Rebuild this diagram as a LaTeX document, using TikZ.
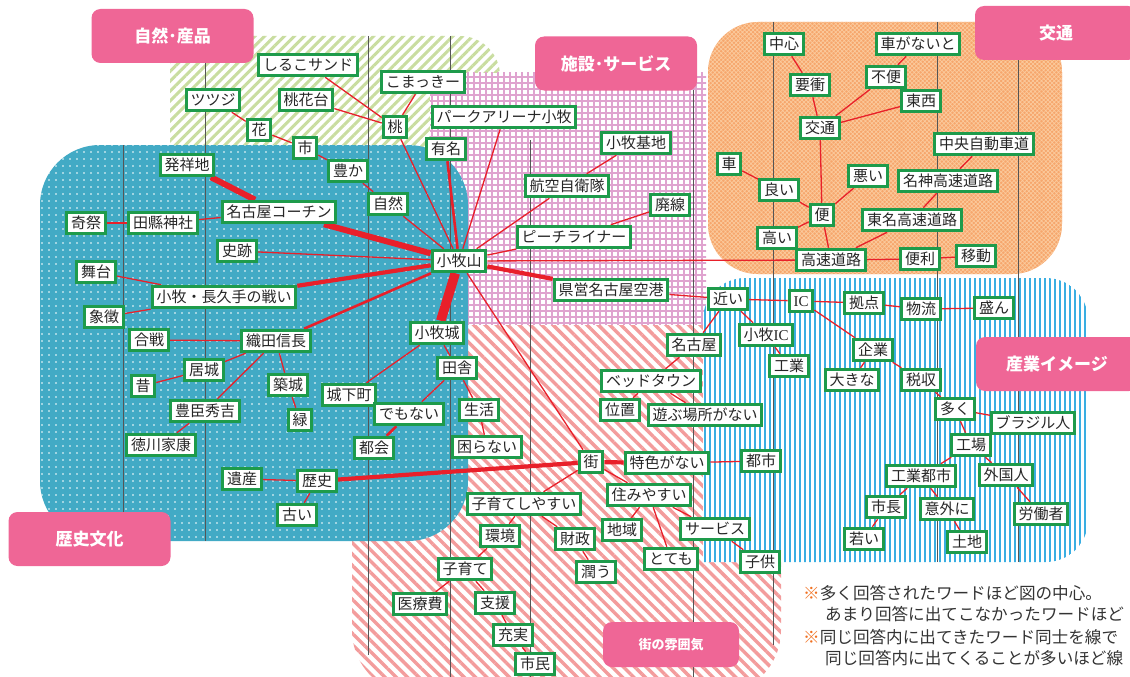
\documentclass[tikz,border=0pt]{standalone}
\usepackage{fontspec}
\newfontfamily\cjk{Noto Sans CJK JP}
\newfontfamily\lserif{Liberation Serif}
\usetikzlibrary{patterns.meta}
\definecolor{lab}{HTML}{EF6696}
\definecolor{ngreen}{HTML}{1E9B4B}
\definecolor{ered}{HTML}{E8202A}
\definecolor{teal}{HTML}{42AAC5}
\definecolor{grs}{HTML}{C9DDA0}
\definecolor{pnk}{HTML}{DFA3CF}
\definecolor{org}{HTML}{F6A66C}
\definecolor{orgl}{HTML}{FBCB9E}
\definecolor{rds}{HTML}{F39C9C}
\definecolor{blu}{HTML}{3AAEE2}
\definecolor{ast}{HTML}{F07020}
\definecolor{gline}{HTML}{555555}
\pgfdeclarelayer{regions}
\pgfdeclarelayer{edges}
\pgfsetlayers{regions,edges,main}
\tikzset{
 w/.style={draw=ngreen, line width=3pt, fill=white, inner xsep=4.3pt, inner ysep=0pt,
   minimum height=21.5pt, text height=12pt, text depth=0.5pt, text=black!85,
   font=\cjk\fontsize{15}{15}\selectfont},
 lbl/.style={fill=lab, rounded corners=9pt, text=white, inner sep=0pt,
   font=\cjk\bfseries\fontsize{17}{17}\selectfont, minimum width=162pt, minimum height=54pt},
 note/.style={anchor=west, inner sep=0pt, text=black!80, font=\cjk\fontsize{16.6}{16.6}\selectfont},
 e/.style={draw=ered, line width=1.3pt},
 eb/.style={draw=ered, line width=2.6pt},
 ec/.style={draw=ered, line width=4.2pt},
 ed/.style={draw=ered, line width=6pt},
 ee/.style={draw=ered, line width=9.5pt},
 vl/.style={draw=gline, line width=0.6pt},
}
\begin{document}
\begin{tikzpicture}[x=1pt,y=-1pt]
\useasboundingbox (0,0) rectangle (1130,677);

% ---------------- regions ----------------
\begin{pgfonlayer}{regions}
\clip (0,0) rectangle (1130,677);
% nature (green stripes)
\fill[white] {[rounded corners=40pt] (170,36) rectangle (500,160)} (170,36) rectangle (260,160) (420,110) rectangle (500,160);
\fill[pattern={Lines[angle=45,distance=7pt,line width=3pt]}, pattern color=grs]
  {[rounded corners=40pt] (170,36) rectangle (500,160)} (170,36) rectangle (260,160) (420,110) rectangle (500,160);
% facilities (pink grid)
\fill[white] (430,73) rectangle (706,325);
\fill[pattern={Hatch[distance=6pt,line width=1.4pt]}, pattern color=pnk] (430,73) rectangle (706,325);
% town (red stripes)
\fill[white, rounded corners=65pt] (352,325) rectangle (781,695);
\fill[pattern={Lines[angle=-45,distance=8pt,line width=3.4pt]}, pattern color=rds, rounded corners=65pt] (352,325) rectangle (781,695);
% traffic (orange)
\fill[org, rounded corners=50pt] (708,22) rectangle (1062,274);
\fill[pattern={Hatch[angle=45,distance=3pt,line width=0.7pt]}, pattern color=orgl, rounded corners=50pt] (708,22) rectangle (1062,274);
% industry (blue stripes)
\fill[white] {[rounded corners=42pt] (703,278) rectangle (1088,562)} (703,500) rectangle (760,562);
\fill[pattern={Lines[angle=90,distance=5pt,line width=2.4pt]}, pattern color=blu]
  {[rounded corners=42pt] (703,278) rectangle (1088,562)} (703,500) rectangle (760,562);
% history (teal dots)
\fill[teal, rounded corners=60pt] (40,145) rectangle (468,541);
\fill[pattern={Dots[distance=7pt,radius=0.8pt]}, pattern color=white, rounded corners=60pt] (40,145) rectangle (468,541);
% grid lines
\draw[vl] (123,145) -- (123,541);
\draw[vl] (205,63) -- (205,541);
\draw[vl] (368,36) -- (368,655);
\draw[vl] (450,36) -- (450,677);
\draw[vl] (530,140) -- (530,677);
\draw[vl] (693,90) -- (693,677);
\draw[vl] (773,22) -- (773,645);
\draw[vl] (937,22) -- (937,562);
\draw[vl] (1018,60) -- (1018,562);
\end{pgfonlayer}

% ---------------- category labels ----------------
\node[lbl] (L1) at (172.5,36) {自然･産品};
\node[lbl] (L2) at (616,63.5) {施設･サービス};
\node[lbl] (L3) at (1056,33) {交通};
\node[lbl] (L4) at (1057,364) {産業イメージ};
\node[lbl] (L5) at (89.5,539) {歴史文化};
\node[lbl, minimum width=136pt, minimum height=45pt, font=\cjk\bfseries\fontsize{13}{13}\selectfont] (L6) at (671,644.5) {街の雰囲気};

% ---------------- nature ----------------
\node[w] (n1) at (308,65) {しるこサンド};
\node[w] (n2) at (306,100) {桃花台};
\node[w] (n3) at (213,100) {ツツジ};
\node[w] (n4) at (259,130) {花};
\node[w] (n5) at (305,148) {市};
\node[w] (n6) at (348,171) {豊か};
\node[w] (n7) at (388,204) {自然};
\node[w] (n8) at (395,127) {桃};
\node[w] (n9) at (423,82) {こまっきー};
\node[w] (n10) at (504,117) {パークアリーナ小牧};
\node[w] (n11) at (446,149) {有名};
% ---------------- facilities ----------------
\node[w] (f1) at (636,143) {小牧基地};
\node[w] (f2) at (567,186) {航空自衛隊};
\node[w] (f3) at (670,205) {廃線};
\node[w] (f4) at (574,237) {ピーチライナー};
\node[w] (f5) at (611,290) {県営名古屋空港};
\node[w] (km) at (459,261) {小牧山};
% ---------------- traffic ----------------
\node[w] (t1) at (784,44) {中心};
\node[w] (t2) at (810,85) {要衝};
\node[w] (t3) at (820,128) {交通};
\node[w] (t4) at (918,44) {車がないと};
\node[w] (t5) at (886,77) {不便};
\node[w] (t6) at (921,101) {東西};
\node[w] (t7) at (984,144) {中央自動車道};
\node[w] (t8) at (948,181) {名神高速道路};
\node[w] (t9) at (868,176) {悪い};
\node[w] (t10) at (912,220) {東名高速道路};
\node[w] (t11) at (729,164) {車};
\node[w] (t12) at (779,190) {良い};
\node[w] (t13) at (822,215) {便};
\node[w] (t14) at (777,238) {高い};
\node[w] (t15) at (831,260) {高速道路};
\node[w] (t16) at (920,259) {便利};
\node[w] (t17) at (976,256) {移動};
% ---------------- industry ----------------
\node[w] (i1) at (728,299) {近い};
\node[w] (i2) at (801,301) {\lserif IC};
\node[w] (i3) at (864,303) {拠点};
\node[w] (i4) at (921,309) {物流};
\node[w] (i5) at (994,308) {盛ん};
\node[w] (i6) at (766,335) {小牧{\lserif IC}};
\node[w] (i7) at (694,345) {名古屋};
\node[w] (i8) at (789,366) {工業};
\node[w] (i9) at (873,350) {企業};
\node[w] (i10) at (852,380) {大きな};
\node[w] (i11) at (921,380) {税収};
\node[w] (i12) at (955,409) {多く};
\node[w] (i13) at (1033,423) {ブラジル人};
\node[w] (i14) at (971,445) {工場};
\node[w] (i15) at (921,476) {工業都市};
\node[w] (i16) at (1006,475) {外国人};
\node[w] (i17) at (886,507) {市長};
\node[w] (i18) at (947,509) {意外に};
\node[w] (i19) at (1041,514) {労働者};
\node[w] (i20) at (864,539) {若い};
\node[w] (i21) at (967,542) {土地};
% ---------------- town ----------------
\node[w] (m1) at (651,381) {ベッドタウン};
\node[w] (m2) at (620,410) {位置};
\node[w] (m3) at (705,415) {遊ぶ場所がない};
\node[w] (m4) at (591,462) {街};
\node[w] (m5) at (667,463) {特色がない};
\node[w] (m6) at (761,461) {都市};
\node[w] (m7) at (649,495) {住みやすい};
\node[w] (m8) at (524,504) {子育てしやすい};
\node[w] (m9) at (622,530) {地域};
\node[w] (m10) at (715,529) {サービス};
\node[w] (m11) at (575,539) {財政};
\node[w] (m12) at (671,559) {とても};
\node[w] (m13) at (760,562) {子供};
\node[w] (m14) at (596,572) {潤う};
\node[w] (m15) at (500,536) {環境};
\node[w] (m16) at (465,569) {子育て};
\node[w] (m17) at (420,604) {医療費};
\node[w] (m18) at (495,603) {支援};
\node[w] (m19) at (513,635) {充実};
\node[w] (m20) at (535,664) {市民};
% ---------------- history ----------------
\node[w] (h1) at (187,165) {発祥地};
\node[w] (h2) at (279,212) {名古屋コーチン};
\node[w] (h3) at (163,223) {田縣神社};
\node[w] (h4) at (86,223) {奇祭};
\node[w] (h5) at (237,251) {史跡};
\node[w] (h6) at (96,272) {舞台};
\node[w] (h7) at (224,297) {小牧・長久手の戦い};
\node[w] (h8) at (104,317) {象徴};
\node[w] (h9) at (149,340) {合戦};
\node[w] (h10) at (276,341) {織田信長};
\node[w] (h11) at (204,370) {居城};
\node[w] (h12) at (143,386) {昔};
\node[w] (h13) at (288,385) {築城};
\node[w] (h14) at (300,420) {緑};
\node[w] (h15) at (205,411) {豊臣秀吉};
\node[w] (h16) at (161,445) {徳川家康};
\node[w] (h17) at (242,479) {遺産};
\node[w] (h18) at (317,481) {歴史};
\node[w] (h19) at (297,515) {古い};
\node[w] (h20) at (437,333) {小牧城};
\node[w] (h21) at (457,368) {田舎};
\node[w] (h22) at (349,395) {城下町};
\node[w] (h23) at (409,414) {でもない};
\node[w] (h24) at (479,410) {生活};
\node[w] (h25) at (374,448) {都会};
\node[w] (h26) at (487,447) {困らない};

% ---------------- notes ----------------
\node[note] (nt1) at (803,593) {\textcolor{ast}{※}多く回答されたワードほど図の中心。};
\node[note] (nt2) at (825,614) {あまり回答に出てこなかったワードほど};
\node[note] (nt3) at (803,637) {\textcolor{ast}{※}同じ回答内に出てきたワード同士を線で};
\node[note] (nt4) at (825,658) {同じ回答内に出てくることが多いほど線};

% ---------------- edges ----------------
\begin{pgfonlayer}{edges}
\draw[e] (n1) -- (n8);
\draw[e] (n2) -- (n8);
\draw[e] (n3) -- (n4);
\draw[e] (n4) -- (n5);
\draw[e] (n5) -- (n6);
\draw[e] (n6) -- (n7);
\draw[e] (n7) -- (km);
\draw[e] (n9) -- (n8);
\draw[e] (n8) -- (km);
\draw[e] (n10) -- (km);
\draw[eb] (n11) -- (km);
\draw[e] (f2) -- (km);
\draw[e] (f1) -- (f2);
\draw[e] (f3) -- (f4);
\draw[e] (f4) -- (km);
\draw[ec] (km) -- (f5);
\draw[e] (f5) -- (i1);
\draw[e] (km) -- (t15);
\draw[e] (km) -- (m4);
\draw[e] (km) -- (h5);
\draw[ed] (km) -- (h2);
\draw[ec] (km) -- (h7);
\draw[eb] (km) -- (h10);
\draw[ee] (km) -- (h20);
\draw[ed] (h1) -- (h2);
\draw[e] (h3) -- (h2);
\draw[e] (h4) -- (h3);
\draw[e] (h6) -- (h7);
\draw[e] (h8) -- (h7);
\draw[e] (h9) -- (h10);
\draw[e] (h11) -- (h10);
\draw[e] (h12) -- (h11);
\draw[e] (h15) -- (h10);
\draw[e] (h16) -- (h15);
\draw[e] (h13) -- (h10);
\draw[e] (h14) -- (h13);
\draw[e] (h20) -- (h22);
\draw[e] (h20) -- (h21);
\draw[e] (h21) -- (h23);
\draw[eb] (h23) -- (h25);
\draw[e] (h21) -- (h24);
\draw[e] (h24) -- (h26);
\draw[e] (h17) -- (h18);
\draw[e] (h18) -- (h19);
\draw[ec] (h18) -- (m4);
\draw[ec] (m4) -- (m5);
\draw[e] (m5) -- (m6);
\draw[e] (m4) -- (m7);
\draw[e] (m4) -- (m8);
\draw[e] (m8) -- (m11);
\draw[e] (m8) -- (m15);
\draw[e] (m11) -- (m14);
\draw[e] (m15) -- (m16);
\draw[e] (m16) -- (m17);
\draw[e] (m16) -- (m18);
\draw[e] (m18) -- (m19);
\draw[e] (m19) -- (m20);
\draw[e] (m7) -- (m9);
\draw[e] (m7) -- (m12);
\draw[e] (m7) -- (m10);
\draw[e] (m10) -- (m13);
\draw[e] (i7) -- (i1);
\draw[e] (i1) -- (i6);
\draw[e] (i1) -- (i2);
\draw[e] (i6) -- (i8);
\draw[e] (i7) -- (m1);
\draw[e] (m1) -- (m2);
\draw[e] (m1) -- (m3);
\draw[e] (i2) -- (i3);
\draw[e] (i3) -- (i4);
\draw[e] (i4) -- (i5);
\draw[e] (i2) -- (i9);
\draw[e] (i9) -- (i10);
\draw[e] (i9) -- (i11);
\draw[e] (i11) -- (i12);
\draw[e] (i12) -- (i13);
\draw[e] (i12) -- (i14);
\draw[e] (i14) -- (i15);
\draw[e] (i14) -- (i16);
\draw[e] (i16) -- (i19);
\draw[e] (i15) -- (i17);
\draw[e] (i15) -- (i18);
\draw[e] (i18) -- (i21);
\draw[e] (i17) -- (i20);
\draw[e] (t1) -- (t2);
\draw[e] (t2) -- (t3);
\draw[e] (t3) -- (t5);
\draw[e] (t3) -- (t6);
\draw[e] (t5) -- (t4);
\draw[e] (t3) -- (t13);
\draw[e] (t11) -- (t12);
\draw[e] (t12) -- (t13);
\draw[e] (t13) -- (t9);
\draw[e] (t7) -- (t8);
\draw[e] (t8) -- (t10);
\draw[e] (t10) -- (t15);
\draw[e] (t13) -- (t15);
\draw[e] (t13) -- (t14);
\draw[e] (t15) -- (t16);
\draw[e] (t16) -- (t17);
\end{pgfonlayer}
\end{tikzpicture}
\end{document}
